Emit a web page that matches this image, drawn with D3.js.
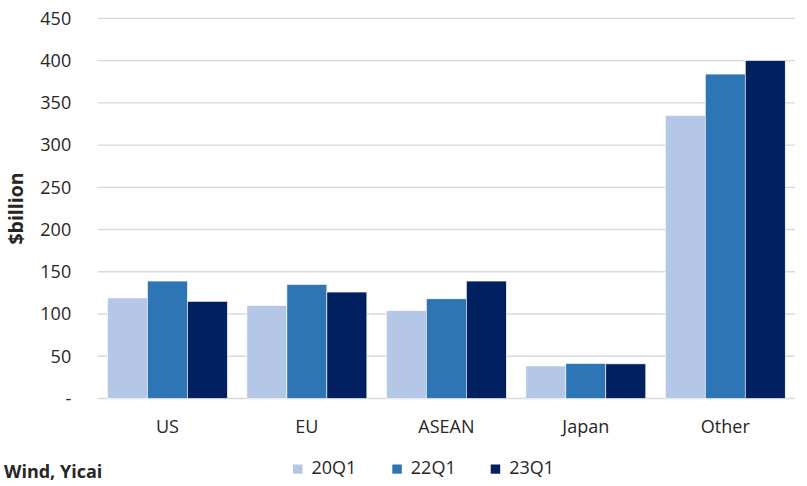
<!DOCTYPE html>
<html><head><meta charset="utf-8">
<script src="https://cdn.jsdelivr.net/npm/d3@7"></script>
<style>body{margin:0;background:#fff}svg{display:block}text{font-family:"Open Sans",sans-serif;fill:#262626}</style>
</head><body><svg id="c" width="807" height="486"></svg>
<script>
const categories = ["US","EU","ASEAN","Japan","Other"];
const seriesNames = ["20Q1","22Q1","23Q1"];
const s20Q1 = [119,110,104,38.5,335];
const s22Q1 = [139,135,118,41.5,384];
const s23Q1 = [115,126,139,41,400];
const yTicks = [0,50,100,150,200,250,300,350,400,450];
const colors = ["#B4C7E7","#2E75B6","#002060"];
const series = [s20Q1,s22Q1,s23Q1];

const svg = d3.select("#c");
const mLeft = 97.7, mRight = 795, mTop = 18.3, mBottom = 398.5;
const x = d3.scaleBand().domain(categories).range([mLeft,mRight]).paddingInner(0.14).paddingOuter(0.07);
const xi = d3.scaleBand().domain(seriesNames).range([0,x.bandwidth()]);
const y = d3.scaleLinear().domain([0,450]).range([mBottom,mTop]);

svg.append("g").selectAll("line").data(yTicks).join("line")
  .attr("x1",mLeft).attr("x2",mRight).attr("y1",d=>y(d)).attr("y2",d=>y(d))
  .attr("stroke","#d9d9d9").attr("stroke-width",1.3);

const yAxis = d3.axisLeft(y).tickValues(yTicks).tickSize(0).tickPadding(26.5)
  .tickFormat(d=> d===0 ? "-" : d);
const ga = svg.append("g").attr("transform",`translate(${mLeft},0)`).call(yAxis);
ga.select(".domain").remove();
ga.selectAll("text").style("font-size","18px").style("font-family","'Open Sans',sans-serif").attr("fill","#262626");

series.forEach((vals,si)=>{
  svg.append("g").selectAll("rect").data(vals).join("rect")
    .attr("x",(d,i)=>x(categories[i])+xi(seriesNames[si]))
    .attr("width",xi.bandwidth())
    .attr("y",d=>y(d)).attr("height",d=>y(0)-y(d))
    .attr("fill",colors[si]).attr("stroke","#fff").attr("stroke-width",0.6);
});

const xAxis = d3.axisBottom(x).tickSize(0).tickPadding(22);
const gx = svg.append("g").attr("transform",`translate(0,${mBottom})`).call(xAxis);
gx.select(".domain").remove();
gx.selectAll("text").style("font-size","18px").style("font-family","'Open Sans',sans-serif").attr("fill","#262626");

svg.append("text").attr("transform","translate(23,208.5) rotate(-90)").attr("text-anchor","middle")
  .style("font-size","19.5px").style("font-weight","bold").text("$billion");
svg.append("text").attr("x",4).attr("y",478).style("font-size","18px").style("font-weight","bold").text("Wind, Yicai");

const legX = [293,392.3,490.7];
const lg = svg.append("g").selectAll("g").data(seriesNames).join("g")
  .attr("transform",(d,i)=>`translate(${legX[i]},464.5)`);
lg.append("rect").attr("width",9.5).attr("height",9.2).attr("fill",(d,i)=>colors[i]);
lg.append("text").attr("x",18.5).attr("y",9.2).style("font-size","18px").text(d=>d);
</script></body></html>
